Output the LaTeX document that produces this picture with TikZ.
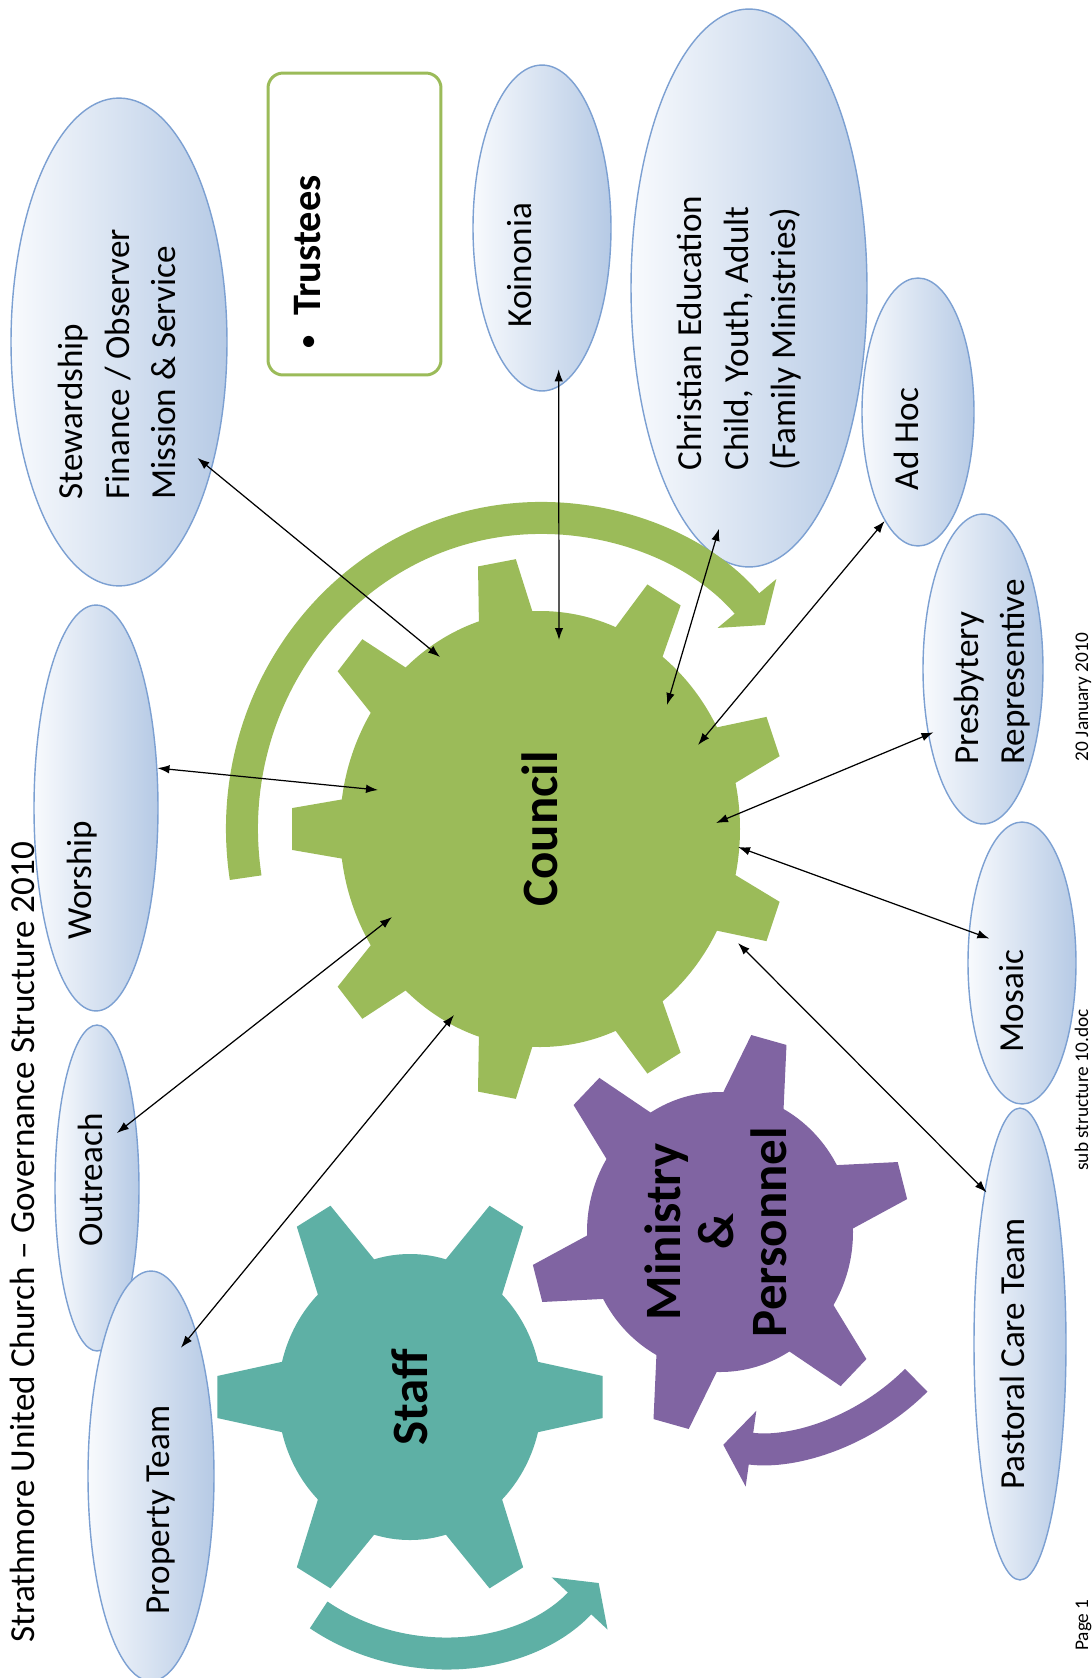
\documentclass[tikz,border=0pt]{standalone}
\usepackage{fontspec}
\setmainfont{Carlito}
\usetikzlibrary{shapes.geometric,arrows.meta}

\definecolor{CouncilColor}{RGB}{155,187,89}
\definecolor{StaffColor}{RGB}{94,176,165}
\definecolor{MinistryColor}{RGB}{128,100,162}
\definecolor{TeamLightColor}{RGB}{248,250,253}
\definecolor{TeamDarkColor}{RGB}{182,202,229}
\definecolor{TeamBorderColor}{RGB}{124,160,210}
\tikzstyle{ts-team-base}=[ellipse,
                          draw=TeamBorderColor,
                          line width=0.8pt,
                          inner sep=0pt,
                         ]
\tikzstyle{team}=[ts-team-base,
                  left color=TeamLightColor,
                  right color=TeamDarkColor]
\tikzstyle{team-label}=[rotate=90,
                        align=left,
                        font=\fontsize{20}{26.6}\selectfont]
\tikzstyle{gear-label}=[rotate=90,
                        align=center,
                        font=\fontsize{29}{30}\selectfont\bfseries]
\tikzstyle{team-link}=[<->, >={Latex[length=2.4mm,width=1.7mm]}, line width=0.7pt]
\tikzstyle{gear-spin}=[line width=0.64cm, -{Triangle[width=1.5cm,length=0.56cm]}]

\begin{document}
\begin{tikzpicture}[x=0.02cm, y=0.02cm]
\clip (0,0) rectangle (1092,-1678);
\fill[white] (0,0) rectangle (1092,-1678);

% title and footer
\node at (22, -1242) (title) [rotate=90, font=\fontsize{20}{24}\selectfont] {Strathmore United Church – Governance Structure 2010};
\node at (1088, -697)  (footer_date) [rotate=90, anchor=base, font=\fontsize{11}{13}\selectfont] {20 January 2010};
\node at (1088, -1090) (footer_file) [rotate=90, anchor=base, font=\fontsize{11}{13}\selectfont] {sub structure 10.doc};
\node at (1088, -1625) (footer_page) [rotate=90, anchor=base, font=\fontsize{11}{13}\selectfont] {Page 1};

% teams
\node at (119, -342)  (team_stewardship) [team, minimum width=4.32cm, minimum height=9.76cm] {};
\node at (96, -808)   (team_worship)     [team, minimum width=2.48cm, minimum height=8.12cm] {};
\node at (97, -1188)  (team_outreach)    [team, minimum width=1.68cm, minimum height=6.52cm] {};
\node at (151, -1476) (team_property)    [team, minimum width=2.52cm, minimum height=8.2cm] {};
\node at (542, -228)  (team_koinonia)    [team, minimum width=2.76cm, minimum height=6.52cm] {};
\node at (749, -288)  (team_christian)   [team, minimum width=4.72cm, minimum height=11.16cm] {};
\node at (918, -412)  (team_adhoc)       [team, minimum width=2.24cm, minimum height=5.36cm] {};
\node at (983, -669)  (team_presbytery)  [team, minimum width=2.4cm, minimum height=6.2cm] {};
\node at (1020, -1344) (team_pastoral)   [team, minimum width=1.84cm, minimum height=9.44cm] {};
\node at (1022, -963) (team_mosaic)      [team, minimum width=2.16cm, minimum height=5.64cm] {};

\node at (117, -364)  (label_stewardship) [team-label] {Stewardship\\Finance / Observer\\Mission \& Service};
\node at (82, -880)   (label_worship)     [team-label] {Worship};
\node at (90, -1180)  (label_outreach)    [team-label] {Outreach};
\node at (161, -1510) (label_property)    [team-label] {Property Team};
\node at (520, -265)  (label_koinonia)    [team-label] {Koinonia};
\node at (739, -333)  (label_christian)   [team-label] {Christian Education\\Child, Youth, Adult\\(Family Ministries)};
\node at (906, -439)  (label_adhoc)       [team-label] {Ad Hoc};
\node at (992, -672)  (label_presbytery)  [team-label] {Presbytery\\Representive};
\node at (1012, -1001) (label_mosaic)     [team-label] {Mosaic};
\node at (1012, -1354) (label_pastoral)   [team-label] {Pastoral Care Team};

% trustees
\node at (354.5, -224) (trustees_box) [rectangle, rounded corners=0.3cm, draw=CouncilColor, line width=1.7pt, fill=white, minimum width=3.46cm, minimum height=6.04cm] {};
\node at (308, -262) (trustees) [rotate=90, font=\fontsize{23}{26}\selectfont\bfseries] {\raisebox{0.12em}{\fontsize{15}{15}\selectfont\textbullet}\hspace{0.5em}Trustees};

% council gear
\coordinate (gear_council) at (540,-829);
\draw[gear-spin, CouncilColor] ([shift={(189:298 and 311)}]gear_council) arc[start angle=189, end angle=41, x radius=298, y radius=311];
\begin{scope}[shift={(gear_council)}, xscale=200, yscale=218]
  \fill[CouncilColor] (0,0) circle (1);
  \foreach \a in {20,60,...,340}
    \fill[CouncilColor, rotate=\a] (0.9,-0.15) -- (1.24,-0.096) -- (1.24,0.096) -- (0.9,0.15) -- cycle;
\end{scope}
\node at (gear_council) (council) [gear-label] {Council};

% staff gear
\coordinate (gear_staff) at (410,-1397);
\coordinate (spin_staff) at (440,-1435);
\draw[gear-spin, StaffColor] ([shift={(236:217)}]spin_staff) arc[start angle=236, end angle=317, radius=217];
\begin{scope}[shift={(gear_staff)}, xscale=132, yscale=143]
  \fill[StaffColor] (0,0) circle (1);
  \foreach \a in {0,60,...,300}
    \fill[StaffColor, rotate=\a] (0.9,-0.26) -- (1.46,-0.147) -- (1.46,0.147) -- (0.9,0.26) -- cycle;
\end{scope}
\node at (gear_staff) (staff) [gear-label] {Staff};

% ministry & personnel gear
\coordinate (gear_ministry) at (720,-1232);
\coordinate (spin_ministry) at (755,-1219);
\draw[gear-spin, MinistryColor] ([shift={(-45:228)}]spin_ministry) arc[start angle=-45, end angle=-98, radius=228];
\begin{scope}[shift={(gear_ministry)}, xscale=133, yscale=140]
  \fill[MinistryColor] (0,0) circle (1);
  \foreach \a in {15,75,...,315}
    \fill[MinistryColor, rotate=\a] (0.9,-0.25) -- (1.42,-0.137) -- (1.42,0.137) -- (0.9,0.25) -- cycle;
\end{scope}
\node at (716,-1232) (ministry) [gear-label] {Ministry\\\&\\Personnel};

% links to council
\coordinate (to_stewardship) at (440,-657);
\coordinate (to_koinonia)    at (559,-640);
\coordinate (to_christian)   at (667,-705);
\coordinate (to_adhoc)       at (698,-745);
\coordinate (to_presbytery)  at (716,-823);
\coordinate (to_mosaic)      at (738,-847);
\coordinate (to_pastoral)    at (738,-943);
\coordinate (to_worship)     at (378,-790);
\coordinate (to_outreach)    at (392,-917);
\coordinate (to_property)    at (454,-1015);

\draw[team-link, shorten <=-10.5pt] (team_stewardship.-54.8) -- (to_stewardship);
\draw[team-link, shorten <=-10pt]   (team_koinonia.-84.2) -- (to_koinonia);
\draw[team-link, shorten <=-14.6pt] (team_christian.-98.8) -- (to_christian);
\draw[team-link]                    (team_adhoc.-107.1) -- (to_adhoc);
\draw[team-link, shorten <=-3.4pt]  (team_presbytery.-130.3) -- (to_presbytery);
\draw[team-link, shorten <=-12.5pt] (team_mosaic.149.1) -- (to_mosaic);
\draw[team-link, shorten <=-1.7pt]  (team_pastoral.103) -- (to_pastoral);
\draw[team-link]                    (team_worship.33.3) -- (to_worship);
\draw[team-link, shorten <=-13.6pt] (team_outreach.61.4) -- (to_outreach);
\draw[team-link, shorten <=-13.3pt] (team_property.73.4) -- (to_property);
\end{tikzpicture}
\end{document}
